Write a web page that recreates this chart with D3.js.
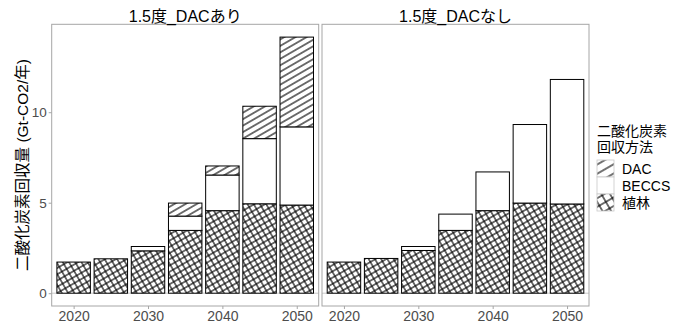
<!DOCTYPE html>
<html>
<head>
<meta charset="utf-8">
<script src="https://cdn.jsdelivr.net/npm/d3@7"></script>
<style>
  body { margin: 0; background: #fff; }
  text { font-family: "Liberation Sans", "Noto Sans CJK JP", sans-serif; }
</style>
</head>
<body>
<div class="chart"></div>
<script>
// データ
const years = [2020, 2025, 2030, 2035, 2040, 2045, 2050];
const scenarios = ["1.5度_DACあり", "1.5度_DACなし"];
const methods = ["植林", "BECCS", "DAC"]; // 下から積み上げ
const legendOrder = ["DAC", "BECCS", "植林"];

const afforestWithDAC = [1.72, 1.90, 2.34, 3.47, 4.56, 4.94, 4.87];
const beccsWithDAC    = [0, 0, 0.24, 0.79, 1.97, 3.60, 4.32];
const dacWithDAC      = [0, 0, 0, 0.72, 0.50, 1.79, 4.96];

const afforestNoDAC = [1.72, 1.92, 2.36, 3.47, 4.56, 4.98, 4.93];
const beccsNoDAC    = [0, 0, 0.22, 0.90, 2.14, 4.34, 6.88];
const dacNoDAC      = [0, 0, 0, 0, 0, 0, 0];

const xTicks = [2020, 2030, 2040, 2050];
const yTicks = [0, 5, 10];

const seriesBy = {
    "1.5度_DACあり": { "植林": afforestWithDAC, "BECCS": beccsWithDAC, "DAC": dacWithDAC },
    "1.5度_DACなし": { "植林": afforestNoDAC, "BECCS": beccsNoDAC, "DAC": dacNoDAC }
};

// サイズ
const W = 686, H = 324;
const panelTop = 24.3, panelBottom = 306;
const panelW = 267;
const panelX = [51.7, 322];

const svg = d3.select(".chart").append("svg")
    .attr("width", W).attr("height", H);

// パターン
const defs = svg.append("defs");
function stripes(id, gap, sw) {
    const p = defs.append("pattern").attr("id", id)
        .attr("patternUnits", "userSpaceOnUse")
        .attr("width", gap).attr("height", gap)
        .attr("patternTransform", "rotate(-30)");
    p.append("rect").attr("width", gap).attr("height", gap).attr("fill", "#fff");
    p.append("line").attr("x1", 0).attr("x2", gap).attr("y1", gap / 2).attr("y2", gap / 2)
        .attr("stroke", "#000").attr("stroke-width", sw);
}
function crosshatch(id, gap, sw) {
    const p = defs.append("pattern").attr("id", id)
        .attr("patternUnits", "userSpaceOnUse")
        .attr("width", gap).attr("height", gap)
        .attr("patternTransform", "rotate(-30)");
    p.append("rect").attr("width", gap).attr("height", gap).attr("fill", "#fff");
    p.append("line").attr("x1", 0).attr("x2", gap).attr("y1", gap / 2).attr("y2", gap / 2)
        .attr("stroke", "#000").attr("stroke-width", sw);
    p.append("line").attr("y1", 0).attr("y2", gap).attr("x1", gap / 2).attr("x2", gap / 2)
        .attr("stroke", "#000").attr("stroke-width", sw);
}
stripes("pat-dac", 5.6, 1.1);
crosshatch("pat-tree", 5.4, 1.1);
stripes("key-dac", 8, 1.1);
crosshatch("key-tree", 7.5, 1.1);

const fillOf = { "DAC": "url(#pat-dac)", "BECCS": "#fff", "植林": "url(#pat-tree)" };
const keyFill = { "DAC": "url(#key-dac)", "BECCS": "#fff", "植林": "url(#key-tree)" };

// スケール
const x = d3.scaleLinear().domain([2017.05, 2052.95]).range([0, panelW]);
const maxTotal = d3.max(scenarios, s => d3.max(years, (yr, i) => d3.sum(methods, m => seriesBy[s][m][i])));
const pad = maxTotal * 0.05;
const y = d3.scaleLinear().domain([-pad, maxTotal + pad]).range([panelBottom, panelTop]);
const barW = (x(2025) - x(2020)) * 0.9;

const stack = d3.stack().keys(methods);

scenarios.forEach((s, si) => {
    const g = svg.append("g").attr("transform", `translate(${panelX[si]},0)`);

    // 0の線
    g.append("line")
        .attr("x1", 0).attr("x2", panelW)
        .attr("y1", y(0)).attr("y2", y(0))
        .attr("stroke", "#c8c8c8").attr("stroke-width", 1);

    const rows = years.map((yr, i) => {
        const r = { year: yr };
        methods.forEach(m => r[m] = seriesBy[s][m][i]);
        return r;
    });
    const layers = stack(rows);

    g.selectAll(".layer")
        .data(layers)
        .enter().append("g")
        .attr("class", "layer")
        .attr("fill", d => fillOf[d.key])
        .selectAll("rect")
        .data(d => d.filter(v => v[1] - v[0] > 0))
        .enter().append("rect")
        .attr("x", d => x(d.data.year) - barW / 2)
        .attr("y", d => y(d[1]))
        .attr("width", barW)
        .attr("height", d => y(d[0]) - y(d[1]))
        .attr("stroke", "#000")
        .attr("stroke-width", 1);

    // パネル枠
    g.append("rect")
        .attr("x", 0).attr("y", panelTop)
        .attr("width", panelW).attr("height", panelBottom - panelTop)
        .attr("fill", "none").attr("stroke", "#a6a6a6").attr("stroke-width", 1);

    // x軸
    const xa = g.append("g")
        .attr("transform", `translate(0,${panelBottom})`)
        .call(d3.axisBottom(x).tickValues(xTicks).tickFormat(d3.format("d")).tickSize(3).tickPadding(2));
    xa.select(".domain").remove();
    xa.selectAll("line").attr("stroke", "#a6a6a6");
    xa.selectAll("text").attr("fill", "#4d4d4d").style("font-size", "14px");

    // y軸（左パネルのみ）
    if (si === 0) {
        const ya = g.append("g")
            .call(d3.axisLeft(y).tickValues(yTicks).tickSize(3).tickPadding(2));
        ya.select(".domain").remove();
        ya.selectAll("line").attr("stroke", "#a6a6a6");
        ya.selectAll("text").attr("fill", "#4d4d4d").style("font-size", "13.5px");
    }

    // パネルタイトル
    g.append("text")
        .attr("x", panelW / 2).attr("y", 21.5)
        .attr("text-anchor", "middle")
        .style("font-size", "16px")
        .text(s);
});

// y軸タイトル
svg.append("text")
    .attr("transform", "translate(28,165) rotate(-90)")
    .attr("text-anchor", "middle")
    .style("font-size", "15.5px")
    .text("二酸化炭素回収量 (Gt-CO2/年)");

// 凡例
const lg = svg.append("g").attr("transform", "translate(597,0)");
lg.append("text").attr("x", 0).attr("y", 135.5).style("font-size", "14px").text("二酸化炭素");
lg.append("text").attr("x", 0).attr("y", 151.5).style("font-size", "14px").text("回収方法");

const keys = lg.selectAll(".key")
    .data(legendOrder)
    .enter().append("g")
    .attr("class", "key")
    .attr("transform", (d, i) => `translate(0,${160 + i * 17})`);
keys.append("rect")
    .attr("width", 17).attr("height", 17)
    .attr("fill", d => keyFill[d])
    .attr("stroke", "#c8c8c8").attr("stroke-width", 0.8);
keys.append("text")
    .attr("x", 25).attr("y", 8.5).attr("dy", "0.36em")
    .style("font-size", "14px")
    .text(d => d);
</script>
</body>
</html>
